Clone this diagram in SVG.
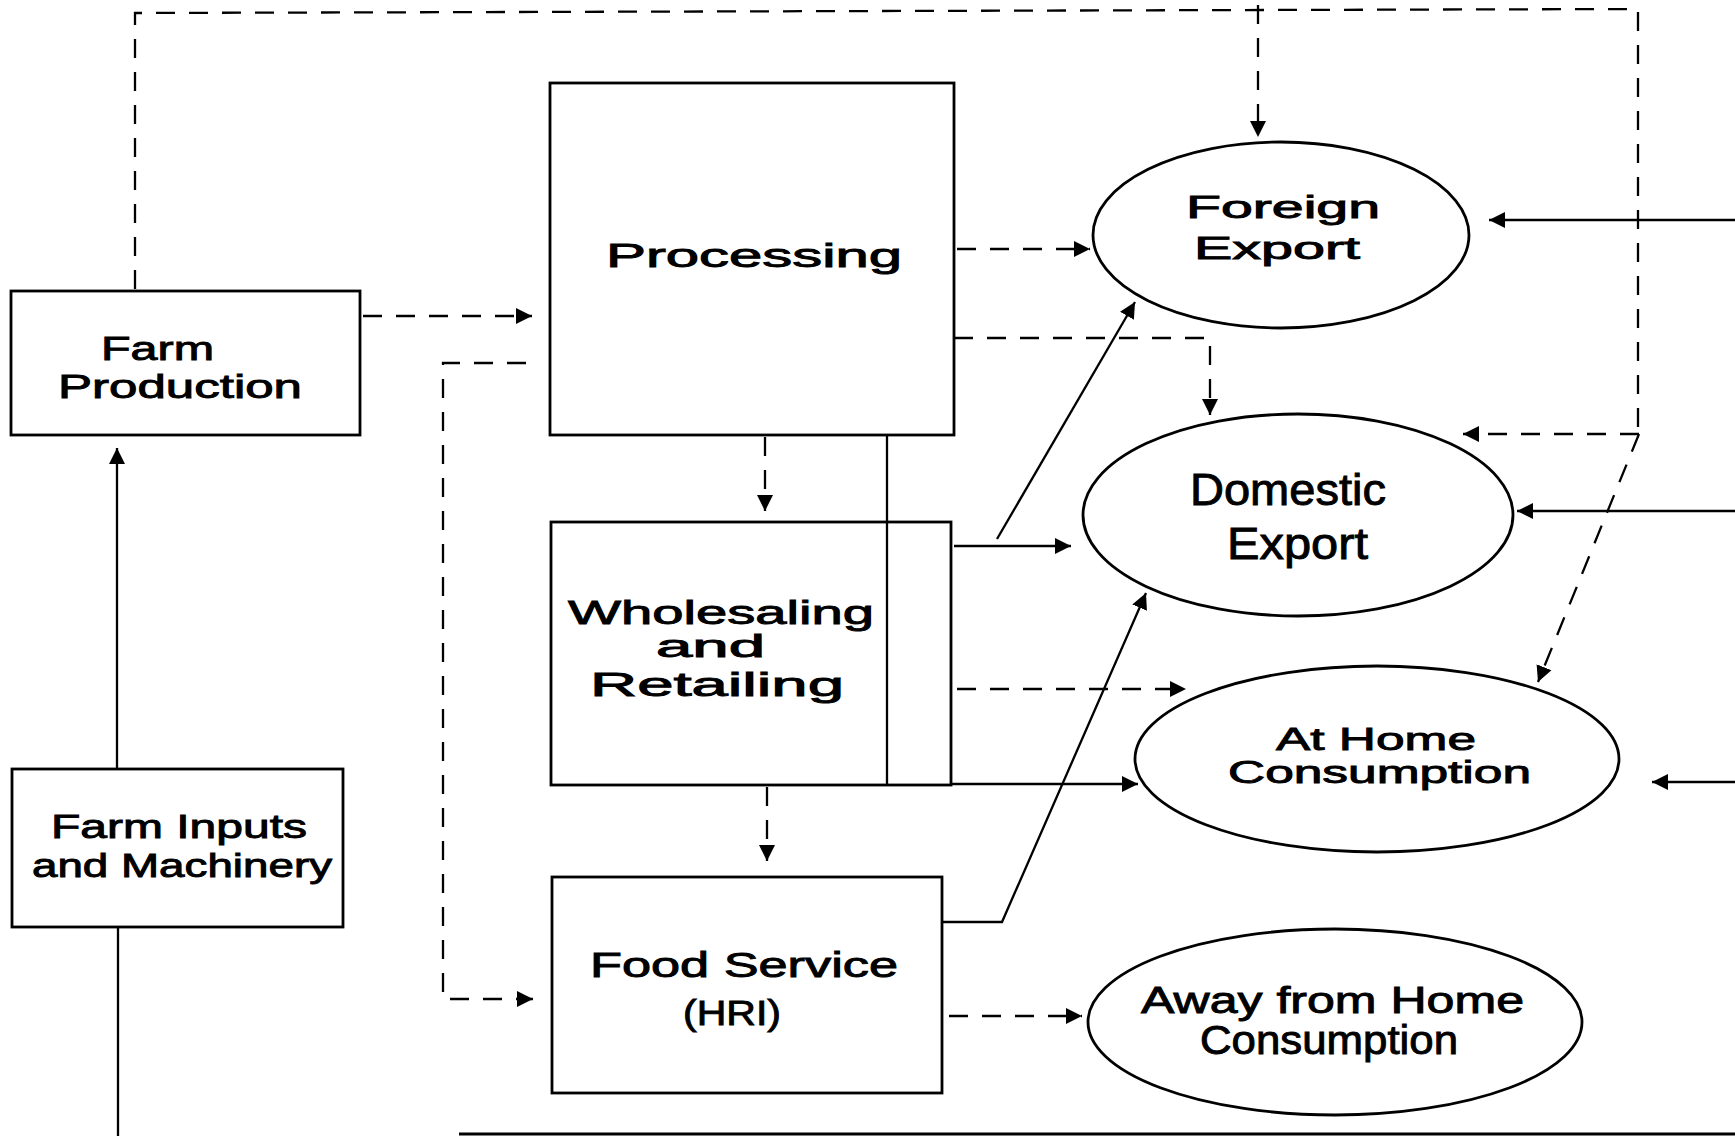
<svg xmlns="http://www.w3.org/2000/svg" width="1735" height="1136" viewBox="0 0 1735 1136">
<style>
.box{fill:#fff;stroke:#000;stroke-width:2.8}
.ell{fill:#fff;stroke:#000;stroke-width:2.8}
.t{font-family:"Liberation Sans",Arial,sans-serif;fill:#000;stroke:#000;stroke-width:0.9}
.c{fill:none;stroke:#000;stroke-width:2.3}
.d{stroke-dasharray:19 14}
</style>
<defs>
<marker id="ah" markerUnits="userSpaceOnUse" markerWidth="18" markerHeight="18" refX="16" refY="9" orient="auto">
<path d="M0,1 L16,9 L0,17 z" fill="#000"/>
</marker>
</defs>
<rect width="1735" height="1136" fill="#fff"/>

<g id="connectors">
<path class="c d" d="M135,289 V13 L1638,9 V434"/>
<path class="c d" d="M1639,434 H1463" marker-end="url(#ah)"/>
<path class="c d" d="M1639,434 L1538,682" marker-end="url(#ah)"/>
<path class="c d" d="M1258,5 V137" marker-end="url(#ah)"/>
<path class="c d" d="M363,316 H532" marker-end="url(#ah)"/>
<path class="c d" d="M957,249 H1090" marker-end="url(#ah)"/>
<path class="c d" d="M954,338 H1210 V415" marker-end="url(#ah)"/>
<path class="c d" d="M765,437 V511" marker-end="url(#ah)"/>
<path class="c d" d="M767,787 V861" marker-end="url(#ah)"/>
<path class="c d" d="M526,363 H443 V999 H533" marker-end="url(#ah)"/>
<path class="c d" d="M957,689 H1186" marker-end="url(#ah)"/>
<path class="c d" d="M949,1016 H1082" marker-end="url(#ah)"/>
<path class="c" d="M954,546 H1071" marker-end="url(#ah)"/>
<path class="c" d="M997,539 L1135,302" marker-end="url(#ah)"/>
<path class="c" d="M887,435 V784 H1138" marker-end="url(#ah)"/>
<path class="c" d="M942,922 H1002 L1146,593" marker-end="url(#ah)"/>
<path class="c" d="M1735,220 H1489" marker-end="url(#ah)"/>
<path class="c" d="M1735,511 H1517" marker-end="url(#ah)"/>
<path class="c" d="M1735,782 H1652" marker-end="url(#ah)"/>
<path class="c" d="M117,769 V448" marker-end="url(#ah)"/>
<path class="c" d="M118,927 V1136"/>
<path class="c" d="M459,1134 H1735" style="stroke-width:3"/>
</g>

<g id="farm-production">
<rect class="box" x="11" y="291" width="349" height="144"/>
<text class="t" x="101" y="360" font-size="33" textLength="113" lengthAdjust="spacingAndGlyphs">Farm</text>
<text class="t" x="58" y="398" font-size="33" textLength="244" lengthAdjust="spacingAndGlyphs">Production</text>
</g>

<g id="farm-inputs">
<rect class="box" x="12" y="769" width="331" height="158"/>
<text class="t" x="51" y="838" font-size="33" textLength="256" lengthAdjust="spacingAndGlyphs">Farm Inputs</text>
<text class="t" x="32" y="877" font-size="33" textLength="300" lengthAdjust="spacingAndGlyphs">and Machinery</text>
</g>

<g id="processing">
<rect class="box" x="550" y="83" width="404" height="352"/>
<text class="t" x="606" y="267" font-size="33" textLength="296" lengthAdjust="spacingAndGlyphs">Processing</text>
</g>

<g id="wholesaling">
<rect class="box" x="551" y="522" width="400" height="263"/>
<path class="c" d="M887,522 V785"/>
<text class="t" x="568" y="624" font-size="34" textLength="306" lengthAdjust="spacingAndGlyphs">Wholesaling</text>
<text class="t" x="656" y="657" font-size="31" textLength="109" lengthAdjust="spacingAndGlyphs">and</text>
<text class="t" x="590" y="696" font-size="34" textLength="254" lengthAdjust="spacingAndGlyphs">Retailing</text>
</g>

<g id="food-service">
<rect class="box" x="552" y="877" width="390" height="216"/>
<text class="t" x="590" y="977" font-size="35" textLength="308" lengthAdjust="spacingAndGlyphs">Food Service</text>
<text class="t" x="683" y="1025" font-size="35" textLength="98" lengthAdjust="spacingAndGlyphs">(HRI)</text>
</g>

<g id="foreign-export">
<ellipse class="ell" cx="1281" cy="235" rx="188" ry="93"/>
<text class="t" x="1186" y="218" font-size="31" textLength="194" lengthAdjust="spacingAndGlyphs">Foreign</text>
<text class="t" x="1194" y="259" font-size="31" textLength="166" lengthAdjust="spacingAndGlyphs">Export</text>
</g>

<g id="domestic-export">
<ellipse class="ell" cx="1298" cy="515" rx="215" ry="101"/>
<text class="t" x="1190" y="505" font-size="44" textLength="196" lengthAdjust="spacingAndGlyphs">Domestic</text>
<text class="t" x="1227" y="559" font-size="44" textLength="141" lengthAdjust="spacingAndGlyphs">Export</text>
</g>

<g id="at-home">
<ellipse class="ell" cx="1377" cy="759" rx="242" ry="93"/>
<text class="t" x="1276" y="750" font-size="32" textLength="200" lengthAdjust="spacingAndGlyphs">At Home</text>
<text class="t" x="1228" y="783" font-size="32" textLength="303" lengthAdjust="spacingAndGlyphs">Consumption</text>
</g>

<g id="away-from-home">
<ellipse class="ell" cx="1335" cy="1022" rx="247" ry="93"/>
<text class="t" x="1141" y="1013" font-size="37" textLength="383" lengthAdjust="spacingAndGlyphs">Away from Home</text>
<text class="t" x="1200" y="1054" font-size="40" textLength="258" lengthAdjust="spacingAndGlyphs">Consumption</text>
</g>
</svg>
